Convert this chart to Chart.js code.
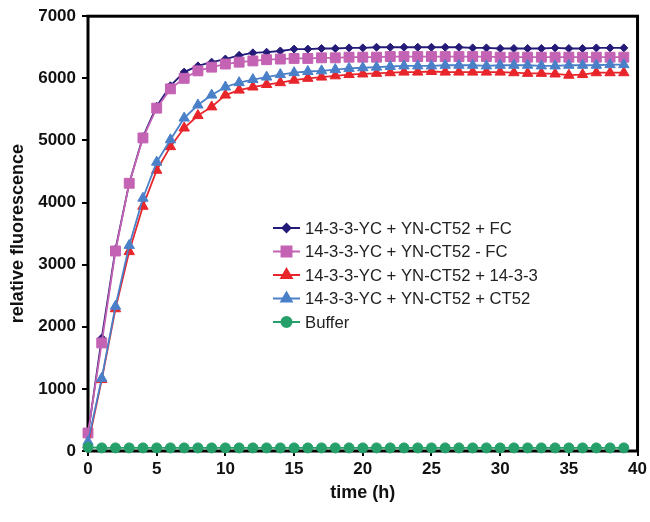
<!DOCTYPE html>
<html>
<head>
<meta charset="utf-8">
<script src="https://cdn.jsdelivr.net/npm/chart.js@4.4.1/dist/chart.umd.min.js"></script>
<style>
html,body{margin:0;padding:0;background:#fff;}
#wrap{width:650px;height:522px;position:relative;}
</style>
</head>
<body>
<div id="wrap"><canvas id="c" width="650" height="522"></canvas></div>
<script>
const timeH = [0,1,2,3,4,5,6,7,8,9,10,11,12,13,14,15,16,17,18,19,20,21,22,23,24,25,26,27,28,29,30,31,32,33,34,35,36,37,38,39];
const seriesNames = [
  "14-3-3-YC + YN-CT52 + FC",
  "14-3-3-YC + YN-CT52 - FC",
  "14-3-3-YC + YN-CT52 + 14-3-3",
  "14-3-3-YC + YN-CT52 + CT52",
  "Buffer"
];
const plusFC = [270,1820,3250,4310,5060,5550,5880,6100,6200,6260,6310,6370,6410,6420,6440,6470,6470,6480,6480,6490,6490,6500,6500,6500,6500,6500,6500,6500,6490,6490,6480,6480,6480,6480,6490,6480,6480,6490,6490,6490];
const minusFC = [290,1740,3220,4310,5040,5520,5830,6000,6120,6180,6230,6260,6280,6300,6310,6320,6320,6330,6330,6340,6340,6340,6350,6350,6350,6350,6350,6350,6350,6350,6340,6340,6340,6340,6340,6340,6340,6340,6340,6340];
const plus1433 = [100,1150,2290,3210,3940,4520,4900,5200,5400,5540,5730,5810,5860,5900,5930,5970,6000,6020,6040,6060,6070,6080,6090,6100,6100,6110,6100,6100,6100,6100,6100,6090,6080,6080,6070,6050,6060,6090,6090,6090];
const plusCT52 = [150,1170,2330,3310,4070,4650,5010,5360,5570,5730,5860,5930,5980,6020,6060,6090,6110,6120,6140,6160,6170,6180,6190,6200,6200,6200,6210,6210,6210,6200,6210,6210,6210,6200,6200,6210,6210,6210,6220,6220];
const buffer = [60,50,50,50,50,50,50,50,50,50,50,50,50,50,50,50,50,50,50,50,50,50,50,50,50,50,50,50,50,50,50,50,50,50,50,50,50,50,50,50];
const xTicks = [0,5,10,15,20,25,30,35,40];
const yTicks = [0,1000,2000,3000,4000,5000,6000,7000];

const FONT = '"Liberation Sans", Arial, sans-serif';
const pts = arr => arr.map((v,i)=>({x:timeH[i], y:v}));
const styles = [
  {color:'#241b78', style:'rectRot', r:4},
  {color:'#c462b4', style:'rect', r:7},
  {color:'#e8252b', style:'triangle', r:6},
  {color:'#4a80c8', style:'triangle', r:6},
  {color:'#26a06a', style:'circle', r:5}
];
const values = [plusFC, minusFC, plus1433, plusCT52, buffer];
const datasets = values.map((arr,i)=>({
  label: seriesNames[i],
  data: pts(arr),
  borderColor: styles[i].color,
  backgroundColor: styles[i].color,
  pointBackgroundColor: styles[i].color,
  pointBorderColor: styles[i].color,
  pointStyle: styles[i].style,
  pointRadius: styles[i].r,
  pointBorderWidth: 1,
  borderWidth: 1.8,
  tension: 0,
  clip: false,
  order: values.length - 1 - i
}));

const frame = {
  id:'frame',
  beforeDatasetsDraw(chart){
    const {ctx, chartArea:a} = chart;
    ctx.save();
    ctx.strokeStyle = '#000';
    ctx.lineWidth = 3;
    ctx.strokeRect(a.left, a.top, a.right - a.left, a.bottom - a.top);
    ctx.restore();
  }
};
const insideLegend = {
  id:'insideLegend',
  afterDraw(chart){
    const ctx = chart.ctx;
    const x0 = 273, x1 = 300, tx = 305;
    const rows = [228, 251.5, 275, 298.5, 322];
    ctx.save();
    ctx.font = '16.7px ' + FONT;
    ctx.textBaseline = 'middle';
    ctx.textAlign = 'left';
    datasets.forEach((d,i)=>{
      const y = rows[i];
      ctx.strokeStyle = d.borderColor;
      ctx.lineWidth = 2;
      ctx.beginPath(); ctx.moveTo(x0,y); ctx.lineTo(x1,y); ctx.stroke();
      ctx.fillStyle = d.borderColor;
      Chart.helpers.drawPoint(ctx, {pointStyle:d.pointStyle, radius:d.pointRadius, borderWidth:1, rotation:0}, (x0+x1)/2, y);
      ctx.fillStyle = '#222';
      ctx.fillText(d.label, tx, y+1);
    });
    ctx.restore();
  }
};

new Chart(document.getElementById('c'), {
  type:'line',
  data:{datasets},
  options:{
    responsive:false,
    animation:false,
    devicePixelRatio:1,
    layout:{padding:{top:16,right:11,left:0,bottom:0}},
    plugins:{legend:{display:false}, tooltip:{enabled:false}},
    scales:{
      x:{
        type:'linear', min:0, max:40,
        afterBuildTicks: s => { s.ticks = xTicks.map(v=>({value:v})); },
        afterFit: s => { s.height = 71; },
        border:{display:false},
        grid:{display:true, drawOnChartArea:false, drawTicks:true, tickLength:5, color:'#000', lineWidth:2},
        ticks:{color:'#111', font:{family:FONT, size:17, weight:'bold'}, padding:3, maxRotation:0},
        title:{display:true, text:'time (h)', color:'#111', font:{family:FONT, size:18, weight:'bold'}, padding:{top:4,bottom:18}}
      },
      y:{
        type:'linear', min:0, max:7000,
        afterBuildTicks: s => { s.ticks = yTicks.map(v=>({value:v})); },
        afterFit: s => { s.width = 88; },
        border:{display:false},
        grid:{display:true, drawOnChartArea:false, drawTicks:true, tickLength:6, color:'#000', lineWidth:2},
        ticks:{color:'#111', font:{family:FONT, size:17, weight:'bold'}, padding:6, callback: v => String(v)},
        title:{display:true, text:'relative fluorescence', color:'#111', font:{family:FONT, size:18, weight:'bold'}, padding:{top:7,bottom:2}}
      }
    }
  },
  plugins:[frame, insideLegend]
});
</script>
</body>
</html>
